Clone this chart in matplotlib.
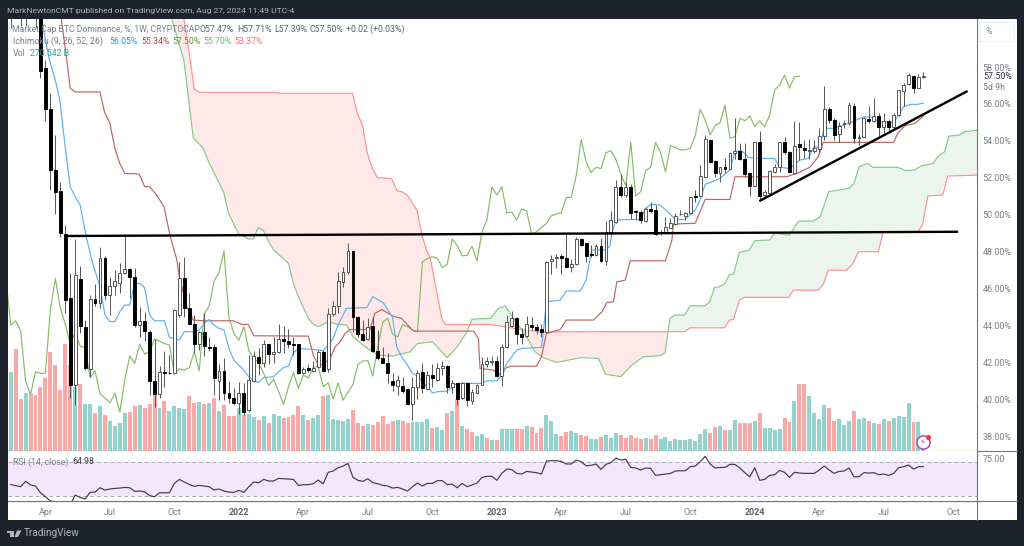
import numpy as np
import matplotlib
matplotlib.use('Agg')
import matplotlib.pyplot as plt
from matplotlib.lines import Line2D
from matplotlib.patches import Rectangle, Polygon

plt.rcParams.update({
    'font.family': ['Roboto', 'DejaVu Sans'],
    'font.size': 6.3,
    'axes.linewidth': 0.8,
})

# weekly candles, BTC dominance %
opens = [62.0,61.5,62.5,61.3,61.0,62.0,62.0,57.93,55.74,52.42,
    51.29,48.96,45.51,40.81,46.50,43.94,41.63,45.42,45.2,47.64,
    45.65,46.16,46.28,46.83,47.04,46.64,44.03,44.24,43.63,40.99,
    40.27,41.5,41.45,41.46,44.60,46.55,44.97,44.08,43.0,43.63,
    42.82,42.82,41.0,41.55,40.33,40.07,39.82,40.33,39.42,41.02,
    42.28,41.99,42.98,42.44,42.58,43.27,43.16,43.03,42.98,41.41,
    41.68,41.55,41.77,42.58,41.63,44.62,45.05,46.34,46.88,48.05,
    44.48,43.54,43.25,43.97,42.64,42.27,42.0,41.0,40.74,40.74,
    40.56,39.73,40.69,41.5,40.58,41.32,41.08,41.68,41.8,40.69,
    40.87,40.09,40.87,39.93,40.36,40.81,41.9,42.02,42.08,41.26,
    42.85,43.97,44.39,43.57,43.45,44.03,43.9,43.81,43.63,47.51,
    47.64,47.76,47.64,47.18,47.33,48.68,48.45,47.87,47.82,48.32,
    47.49,49.07,49.62,51.52,51.07,51.48,50.22,50.17,49.68,50.31,
    50.26,48.99,49.08,49.3,49.48,50.02,49.95,50.08,51.01,51.02,
    52.06,54.05,52.91,52.28,52.57,52.5,53.33,53.47,53.02,52.24,
    51.56,53.92,51.07,51.2,52.33,52.57,53.92,53.42,52.24,53.81,
    53.6,53.45,53.47,53.54,54.26,55.71,55.13,54.37,54.9,54.95,
    55.89,54.14,54.23,55.17,55.09,55.35,54.77,55.08,54.77,55.4,
    56.72,57.08,57.51,56.88,57.47]
highs = [62.5,63.0,63.0,62.0,62.5,62.8,62.5,58.4,56.57,54.32,
    51.76,49.45,46.83,48.69,47.2,44.3,45.65,46.23,48.27,47.75,
    46.64,47.0,47.4,48.96,47.1,47.1,45.02,44.75,43.76,43.3,
    41.81,42.62,42.4,44.9,47.45,47.69,45.74,44.57,43.7,44.66,
    43.4,43.0,41.92,42.22,41.0,40.6,40.96,40.87,42.4,42.6,
    42.76,43.21,43.03,43.4,44.08,43.99,43.79,43.4,43.03,41.77,
    41.92,42.08,42.67,42.67,44.93,45.33,46.91,47.18,48.45,48.1,
    44.5,44.3,44.39,44.44,43.75,42.85,42.5,41.41,41.32,41.23,
    40.6,41.2,41.59,41.95,41.55,41.91,41.99,42.1,41.86,41.05,
    40.9,40.93,40.93,40.54,40.83,42.31,42.31,42.35,42.35,43.03,
    44.57,44.8,44.44,43.85,44.51,44.44,44.08,44.08,47.5,47.82,
    47.87,47.87,49.0,47.6,48.8,48.72,48.48,48.36,48.41,48.72,
    49.67,50.2,51.88,52.2,51.79,51.66,50.25,50.26,50.44,50.71,
    50.53,49.17,49.9,49.8,50.08,50.26,50.15,50.98,51.34,52.69,
    54.32,54.08,52.96,52.6,53.05,53.42,55.26,53.87,53.9,52.28,
    53.96,54.54,51.34,52.42,52.75,53.96,54.2,53.47,55.09,55.04,
    54.05,54.08,54.05,54.68,56.99,55.85,55.22,55.04,55.13,56.12,
    56.03,54.4,55.31,55.89,56.3,55.49,55.49,55.13,55.49,56.78,
    57.12,57.69,57.57,57.62,57.71]
lows = [60.1,61.0,60.2,60.2,60.9,60.1,57.39,55.10,51.34,50.02,
    48.78,44.7,40.07,39.70,43.6,41.6,41.23,45.07,44.93,45.38,
    44.57,45.65,45.74,46.8,45.47,43.9,43.4,43.18,40.24,39.6,
    40.06,40.69,41.4,41.4,44.48,44.44,44.03,42.53,42.67,42.35,
    42.6,40.24,39.97,39.97,39.79,39.7,39.24,39.15,39.33,40.96,
    41.32,41.77,41.92,41.95,42.5,42.53,42.76,42.40,41.38,41.38,
    41.5,41.5,41.73,41.5,41.5,44.51,44.66,46.1,46.8,43.66,
    43.4,43.15,43.2,42.58,42.13,41.95,40.87,40.47,40.24,40.36,
    39.68,38.88,40.05,40.33,40.5,40.69,41.0,41.32,40.33,40.33,
    39.69,40.05,39.66,39.75,40.33,40.78,41.77,41.86,41.23,40.72,
    42.76,43.94,43.03,43.03,43.39,43.76,43.57,43.4,43.61,46.82,
    47.1,46.82,47.1,46.91,47.27,48.3,47.45,47.73,47.76,47.45,
    47.27,48.9,49.54,50.98,50.98,49.75,49.72,49.54,49.62,50.08,
    48.9,48.9,49.03,49.26,49.44,49.98,49.72,50.04,50.71,50.98,
    52.03,52.78,52.03,51.76,52.24,52.46,53.0,52.96,52.06,51.0,
    51.52,50.8,50.98,51.16,52.24,52.33,53.29,52.24,52.2,52.96,
    53.05,53.02,53.33,53.33,54.05,54.99,54.05,53.96,54.68,54.86,
    53.87,53.78,54.19,54.95,55.04,54.23,54.41,54.5,54.59,55.35,
    55.89,57.03,56.61,56.85,57.39]
closes = [61.5,62.5,61.3,61.0,62.0,61.4,57.80,55.73,52.42,51.25,
    48.99,45.38,40.80,46.73,43.97,41.73,45.42,45.2,47.64,45.65,
    46.16,46.43,46.83,47.04,46.64,44.03,44.26,43.72,40.99,40.27,
    41.5,41.41,41.43,44.87,46.55,44.97,44.08,43.03,43.63,42.89,
    42.81,41.18,41.55,40.33,40.07,39.82,40.33,39.33,41.05,42.37,
    41.95,43.0,42.46,42.58,43.27,43.16,43.03,42.94,41.41,41.66,
    41.59,41.72,42.58,41.55,44.62,45.06,46.41,46.88,48.03,44.44,
    43.57,43.21,43.94,42.64,42.22,42.0,41.41,40.76,41.08,40.45,
    39.73,40.7,41.46,40.6,41.32,41.17,41.73,41.8,40.69,40.9,
    40.02,40.9,39.96,40.38,40.81,41.9,42.08,42.1,41.26,42.85,
    44.17,44.39,43.52,43.39,44.06,43.94,43.76,43.66,47.45,47.63,
    47.73,47.64,47.15,47.31,48.68,48.36,47.78,47.8,48.3,47.49,
    49.07,49.72,51.5,51.07,51.52,50.11,50.15,49.72,50.31,50.22,
    48.96,49.08,49.32,49.53,49.95,50.04,50.11,50.94,50.94,52.1,
    54.08,52.87,52.28,52.57,52.5,53.36,53.47,53.0,52.21,51.57,
    53.92,51.02,51.25,52.39,52.57,53.92,53.38,52.33,53.74,53.65,
    53.51,53.51,53.6,54.28,55.71,55.13,54.32,54.82,54.99,55.93,
    54.14,54.23,55.22,55.09,55.35,54.77,55.08,54.77,55.4,56.76,
    57.01,57.57,56.85,57.48,57.50]

# volume pane has no scale in the picture, so these are relative heights
volume = [738,955,489,542,529,520,598,682,924,800,
    566,1002,800,598,622,436,436,355,420,333,
    284,237,262,352,361,420,430,405,442,535,
    405,467,371,417,402,395,517,448,461,442,
    451,498,377,427,324,324,405,333,342,315,
    293,324,265,349,324,308,315,336,417,336,
    290,305,333,510,520,296,293,283,296,383,
    258,230,249,240,271,330,255,283,292,277,
    265,268,271,274,302,215,224,199,358,370,
    488,236,209,174,143,156,118,106,106,209,
    209,209,209,209,236,224,171,218,339,280,
    162,140,178,184,171,152,140,109,109,128,
    152,125,171,146,125,149,125,109,118,109,
    146,116,134,97,116,103,106,116,97,156,
    203,172,221,231,196,196,293,265,259,262,
    277,358,218,218,196,209,311,271,470,629,
    623,511,355,296,430,399,277,302,243,283,
    371,296,311,277,259,249,296,283,305,324,
    315,448,271,271,75]
volume_dir = ('grrgrrrrrr' 'rrrgrggrgr' 'ggggrrgrrr' 'grggggrrgr' 'grgrrrgrgg'
    'rgrggrrrrg' 'rggrgggggr' 'rrgrrrrrgr' 'rggggrggrg' 'rgrrggrgrg'
    'ggrrgrrrgg' 'grrggrrggr' 'gggrrrrrgr' 'rggggggggg' 'grrgrggrrr'
    'grggggrrgr' 'rggggrrggg' 'rggrgrgrgg' 'ggrgg')

rsi = [44.0,42.5,41.3,47.6,43.3,42.1,34.2,29.5,24.4,23.7,
    21,18,20,31.5,28.7,26.8,34.6,35,40.1,37.4,
    38.6,39.3,39.7,40.5,40.1,35.8,36.2,35.4,30.7,29.5,
    34.2,34.2,34.2,45.2,49.9,46.8,44,41.7,42.9,42.1,
    41.3,37.4,38.6,36.2,35,34.6,37,34.6,41.3,46.8,
    46,49.9,48,48,51.1,50.7,50.3,49.9,42.9,43.7,
    43.7,44.8,49.1,44.8,58.2,59.7,63.6,65.6,68.7,52.3,
    48.8,47.6,50.7,46,44.8,42.9,42.1,39.7,40.5,38.6,
    36.2,41.3,45.6,42.1,45.2,45.2,48.4,48.4,43.7,44.4,
    40.1,45.2,41.3,43.3,45.6,52.3,53.5,53.5,48.8,57,
    62.1,61.5,57,56.2,59.3,58.6,57.8,56.2,71.5,71.9,
    71.9,71.1,68,68,72.7,70.7,66,66.4,68,61.7,
    67.6,69.5,75,72.7,73.5,64,63.3,60.9,63.3,62.9,
    54.6,55.4,56.2,57,59.7,60.1,60.1,64.8,65.6,70.7,
    77,68,63.3,64,64,67.6,67.6,63.3,57.8,53,
    63.6,48.8,49.9,54.6,55.4,60.5,58.2,52.3,58.2,57.4,
    57,57,57,60.9,65.6,60.9,57,59.3,59.7,63.3,
    53,53,57.8,57.4,57.8,55.4,56.2,54.6,57,63.6,
    64.8,66.8,62.1,64.8,64.98]

# ichimoku lines, read at their corners (week number, value)
tenkan_wk = [5,6,7,7.8,8.9,9.9,10.9,12,13,14,15.3,16.5,18,19,20,21,22,23,24,25,26,27,28,29,31,32,33,34,35,37,38,39,40,41,42,43,44,45,46,47,48,49,50,51,53,54,55,56,57,58,61,63,64,65,66,67,67.7,71.8,73,75.1,77,77.8,78.8,80,81,82,84,85,86,88,89,90,95,96,98,99,100,102,103,107,107.4,108,110.8,112,114.8,116,117.1,120,120.8,121.2,122,125.6,126.9,128,129,131,132,133,134,136,138,139,140,141,143,145,146,147.3,148.7,151,154,155,157,158,159,160.8,162,163,164,165.9,167,169,172,173.6,175,178,179,180,181.4,182.8,184]
tenkan = [63,61,59.5,58.38,57.39,56.21,53.87,51.52,50.98,50.53,48.72,47.4,46.1,44.57,44.21,44.21,44.75,45.11,45.11,46.28,46.28,46.05,44.57,44.26,44.26,43.36,43.3,43.21,43.67,43.67,43.76,44.12,44.33,44.03,43.85,43.76,42.76,42.13,41.86,41.59,41.23,41.01,40.92,41.19,41.23,41.5,41.73,41.81,42.53,42.76,42.71,42.64,42.94,43.3,44.03,44.57,44.93,44.98,45.56,45.24,44.44,42.85,42.31,41.86,41.41,41.28,40.65,40.36,40.42,40.45,40.69,40.87,40.87,41.01,41.01,41.32,41.95,42.67,42.76,42.82,43.75,45.29,45.38,45.87,45.87,46.46,48.09,48.09,48.31,49.0,49.72,49.75,49.75,50.35,50.56,50.53,50.26,50.02,49.72,49.75,50.26,50.8,51.66,51.74,51.97,52.42,53.42,53.47,53.11,53.05,53.05,52.57,52.51,52.7,52.96,53.05,53.72,53.6,54.68,54.68,54.8,54.95,55.31,55.28,55.04,55.0,55.4,55.85,55.98,55.98,56.05]

kijun_wk = [9.5,11.3,12,13,18,18.9,20,21,22,23,25.9,27,28,29.4,30.9,32.1,33.5,34,35.5,36.8,39,44.9,46.6,47.9,49,60,61,62,63,64.4,65.4,66.4,67.4,68.4,72.4,73.4,74.8,77.1,78.8,81.2,93.3,94.3,94.6,97.3,99,99.7,100.7,106,107,108,110.8,112,117.5,119.2,120.2,121.5,122.2,123.9,124.9,132,133.3,133.6,138,140,145,146,156.4,158.5,161.1,162.8,163.8,178,178.8,180.3,182.3,184]
kijun = [62,58.38,56.85,56.65,56.65,55.58,54.95,53.6,52.78,52.24,52.21,51.52,51.52,51.07,50.44,48.9,47.55,46.64,45.02,44.3,44.26,44.26,44.06,44.06,43.45,43.43,42.4,41.86,41.9,42.22,42.85,43.12,43.57,43.79,43.79,44.66,44.87,44.51,44.39,43.7,43.7,43.3,41.68,41.59,41.28,41.68,41.8,41.8,42.31,43.57,43.79,44.3,44.3,44.75,45.25,45.29,46.37,46.46,47.51,47.51,48.63,49.5,49.54,50.83,50.83,52.06,52.06,52.24,52.57,53.14,53.92,53.92,54.41,54.82,54.95,55.34]

span_a_wk = [31,34,34.9,36.8,38.8,39.9,42.9,43.9,45.9,47.9,48.9,49.9,50.9,52,53,56,57,58,60,61,62,64,65.7,67.7,69,71,73,74,77,80.5,82,85,88,90,92,93,96.7,98.3,99.7,104,105.7,107.4,110,115,118.5,119.9,123,125.2,127.5,130.9,131.9,132.9,133.9,135.9,136.9,139.9,140.9,141.9,142.9,143.9,144.9,145.7,146.9,148.9,150,153,154,157,158.8,161.8,163.2,164.9,169,170,171,172.8,173.8,178.8,180.5,182.2,183.5,185.9,187.2,188.3,189.1,191.3,192.3,195.3]
span_a = [62,59.2,58.38,54.17,53.6,52.87,51.25,50.08,48.99,48.69,48.69,49.3,49.17,48.54,48.09,47.37,46.28,45.56,44.39,44.08,43.94,44.21,44.08,44.03,43.39,42.94,42.58,42.4,42.35,42.58,43.03,43.12,42.27,42.85,43.66,44.35,44.39,44.93,45.05,43.39,42.58,42.27,42.0,42.27,42.22,41.37,41.23,41.86,42.31,42.37,42.53,44.39,44.57,44.57,45.07,45.07,45.29,46.07,46.1,46.25,46.77,46.79,47.96,48.09,48.6,48.63,49.0,48.9,49.66,49.66,49.9,51.25,51.43,51.7,52.6,52.78,52.57,52.57,52.39,52.42,52.64,52.78,53.24,53.42,54.26,54.32,54.5,54.59]

span_b_wk = [33,36.2,37,38,53.3,54,68.9,69.9,70.9,71.9,72.9,73.9,76.8,77.9,78.9,79.9,81.9,82.9,83.8,84.6,86.9,87.6,96.6,103.8,107.4,130.9,135.9,136.9,143.9,144.9,145.7,146.9,147.9,156.8,157.8,162.8,163.8,164.8,168.5,169.7,170.9,174.9,175.9,182.9,183.8,184.9,187.9,188.9,195]
span_b = [64,58.38,56.81,56.63,56.63,56.58,56.58,55.5,54.86,53.33,52.52,52.01,51.96,51.29,51.25,51.07,50.26,48.91,48.09,47.64,44.39,44.06,44.06,43.75,43.66,43.67,43.67,43.88,43.88,44.3,44.33,45.38,45.53,45.53,45.92,45.92,46.23,47.0,47.0,47.33,48.0,48.0,49.08,49.08,49.44,51.02,51.07,52.1,52.15]

# black lines the author drew (week, value)
level_wk = [11, 191]
level = [48.85, 49.08]
trend_wk = [150.9, 192.9]
trend = [50.74, 56.70]

price_ticks = [38, 40, 42, 44, 46, 48, 50, 52, 54, 56, 58]
month_weeks = [7, 20, 33, 46, 59, 72, 85, 98, 111, 124, 137, 150, 163, 176, 190]
month_labels = ['Apr', 'Jul', 'Oct', '2022', 'Apr', 'Jul', 'Oct', '2023', 'Apr', 'Jul', 'Oct', '2024', 'Apr', 'Jul', 'Oct']

W, H = 1024, 546
BG = '#1e222d'
GREY = '#7c7f8a'

def axes_box(x0, y0, x1, y1):
    return [x0 / W, 1 - y1 / H, (x1 - x0) / W, (y1 - y0) / H]

def put(x, y, s, color=GREY, size=6.3, **kw):
    fig.text(x / W, 1 - y / H, s, color=color, fontsize=size, va='center', **kw)

fig = plt.figure(figsize=(W / 100, H / 100), dpi=100, facecolor=BG)
fig.patches.append(Rectangle((7.5 / W, 1 - 520 / H), 1009.5 / W, 501 / H, transform=fig.transFigure, facecolor='white', edgecolor='none', zorder=-5))

x_lim = (-0.544, 194.8)
weeks = np.arange(len(closes))
o = np.array(opens)
c = np.array(closes)
up = c >= o

# volume sits behind the price axes
ax_vol = fig.add_axes(axes_box(8, 19, 977, 451), zorder=1)
ax_vol.set_xlim(x_lim)
ax_vol.set_ylim(0, 4030)
ax_vol.axis('off')
vol_colors = ['#92d3cd' if d == 'g' else '#f7a9a7' for d in volume_dir]
ax_vol.bar(weeks, volume, width=0.8, color=vol_colors)

ax = fig.add_axes(axes_box(8, 19, 977, 451), zorder=2)
ax.patch.set_alpha(0)
ax.set_xlim(x_lim)
ax.set_ylim(37.21, 60.6)
for s in ['top', 'left', 'bottom']:
    ax.spines[s].set_visible(False)
ax.spines['right'].set_color('#6f7280')
ax.set_xticks([])
ax.yaxis.tick_right()
ax.set_yticks(price_ticks)
ax.set_yticklabels(['%.2f%%' % t for t in price_ticks])
ax.tick_params(axis='y', length=0, pad=4, labelsize=6.4, labelcolor=GREY)

# cloud fill between the two leading spans
fill_wk = np.arange(31, 196, 0.25)
a_fill = np.interp(fill_wk, span_a_wk, span_a)
b_fill = np.interp(fill_wk, span_b_wk, span_b)
ax.fill_between(fill_wk, a_fill, b_fill, where=a_fill >= b_fill, color='#ecf5ed', lw=0, interpolate=True, zorder=1)
ax.fill_between(fill_wk, a_fill, b_fill, where=a_fill < b_fill, color='#fee8e8', lw=0, interpolate=True, zorder=1)

ax.plot(span_a_wk, span_a, color='#86c98b', lw=0.85, zorder=2)
ax.plot(span_b_wk, span_b, color='#ff9090', lw=0.85, zorder=2)
ax.plot(weeks - 25, closes, color='#86bb66', lw=0.85, zorder=2)   # lagging span
ax.plot(kijun_wk, kijun, color='#bb6666', lw=0.85, zorder=2)
ax.plot(tenkan_wk, tenkan, color='#5ab1f5', lw=0.85, zorder=2)

ax.vlines(weeks, lows, highs, color='#555555', lw=0.7, zorder=3)
ax.bar(weeks[up], (c - o)[up], bottom=o[up], width=0.58, color='white', edgecolor='#4a4a4a', lw=0.65, zorder=4)
ax.bar(weeks[~up], (c - o)[~up], bottom=o[~up], width=0.58, color='black', edgecolor='black', lw=0.65, zorder=4)

ax.plot(level_wk, level, color='black', lw=1.7, solid_capstyle='butt', zorder=5)
ax.plot(trend_wk, trend, color='black', lw=1.7, solid_capstyle='butt', zorder=5)

# rsi pane
ax_rsi = fig.add_axes(axes_box(8, 451, 977, 501), zorder=2)
ax_rsi.set_xlim(x_lim)
ax_rsi.set_ylim(24.5, 83.3)
ax_rsi.axhspan(30, 70, color='#f3e6fd', lw=0)
for band in (30, 70):
    ax_rsi.axhline(band, color='#a9a9b3', lw=0.7, dashes=(4, 3))
ax_rsi.plot(weeks, rsi, color='#3d3d44', lw=0.85)
for s in ['top', 'left']:
    ax_rsi.spines[s].set_visible(False)
for s in ['bottom', 'right']:
    ax_rsi.spines[s].set_color('#6f7280')
ax_rsi.yaxis.tick_right()
ax_rsi.set_yticks([75])
ax_rsi.set_yticklabels(['75.00'])
ax_rsi.set_xticks(month_weeks)
ax_rsi.set_xticklabels(month_labels)
ax_rsi.tick_params(axis='y', length=0, pad=4, labelsize=6.4, labelcolor=GREY)
ax_rsi.tick_params(axis='x', length=0, pad=5, labelsize=6.5, labelcolor=GREY)
for lab in ax_rsi.get_xticklabels():
    if lab.get_text().startswith('20'):
        lab.set_fontweight('bold')
        lab.set_color('#5d606b')

# pane separators run on through the price column
for y in (451, 501):
    fig.add_artist(Line2D([8 / W, 1017 / W], [1 - y / H, 1 - y / H], color='#6f7280', lw=0.8))
fig.add_artist(Line2D([977 / W, 977 / W], [1 - 501 / H, 1 - 520 / H], color='#6f7280', lw=0.8))

# header and legends
put(7, 10.5, 'MarkNewtonCMT published on TradingView.com, Aug 27, 2024 11:49 UTC-4', color='#b2b5be', size=6.1)
put(12, 29.5, 'Market Cap BTC Dominance, %, 1W, CRYPTOCAP', size=6.2)
for x, s in [(200, 'O57.47%'), (237, 'H57.71%'), (274, 'L57.39%'), (310, 'C57.50%'), (346, '+0.02 (+0.03%)')]:
    put(x, 29.5, s, color='#5f626d')
put(13, 41.5, 'Ichimoku (9, 26, 52, 26)')
for x, s, col in [(109.5, '56.05%', '#2196f3'), (141, '55.34%', '#b24a4a'), (172, '57.50%', '#4e9f2d'),
                  (203, '55.70%', '#66bb6a'), (234, '53.37%', '#ff6b6b')]:
    put(x, 41.5, s, color=col)
put(13, 53.5, 'Vol')
put(29.5, 53.5, '270.542 B', color='#26a69a')
put(13, 462, 'RSI (14, close)')
put(72, 462, '64.98', color='#3d3d44')

# price column extras
put(983, 77, '57.50%', color='#2f323c', size=6.4)
put(983, 87, '5d 9h', size=6.4)
fig.patches.append(Rectangle((979 / W, 1 - 41 / H), 35 / W, 19 / H, transform=fig.transFigure, facecolor='white', edgecolor='#eceef2', lw=0.8))
put(986, 31, '%', size=6.4)

# lightning badge
fig.add_artist(Line2D([922.7 / W], [1 - 441.7 / H], marker='o', ms=9.5, mfc='white', mec='#ab47bc', mew=1.1, ls=''))
fig.add_artist(Line2D([927.8 / W], [1 - 436.8 / H], marker='o', ms=2.6, mfc='#f23645', mec='#f23645', ls=''))
fig.text(922.7 / W, 1 - 441.7 / H, '\u26a1', color='#ab47bc', fontsize=6, ha='center', va='center', family='DejaVu Sans')

# TradingView mark
logo = '#b2b5be'
fig.patches.append(Rectangle((7 / W, 1 - 533 / H), 6.5 / W, 2.5 / H, transform=fig.transFigure, facecolor=logo))
fig.patches.append(Rectangle((10 / W, 1 - 537 / H), 3.5 / W, 6 / H, transform=fig.transFigure, facecolor=logo))
fig.patches.append(Polygon([(17 / W, 1 - 530.5 / H), (21.5 / W, 1 - 530.5 / H), (18 / W, 1 - 537 / H), (14.5 / W, 1 - 537 / H)], transform=fig.transFigure, facecolor=logo))
put(24, 533.5, 'TradingView', color='#b2b5be', size=7.2)

fig.savefig('out.png', dpi=100, facecolor=BG)
